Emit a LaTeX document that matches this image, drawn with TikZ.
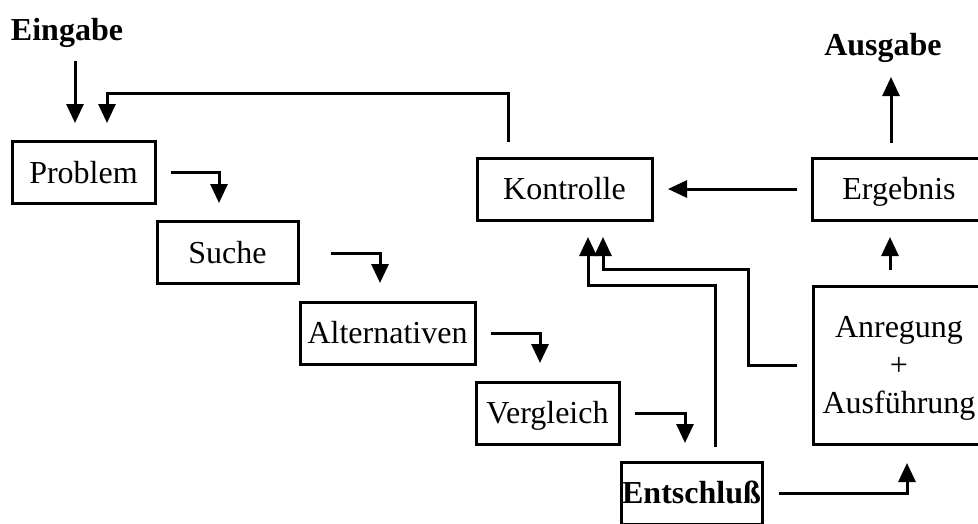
\documentclass[tikz,border=0pt]{standalone}
\usepackage{fontspec}
\setmainfont{Liberation Serif}
\usetikzlibrary{arrows.meta}
\begin{document}
\begin{tikzpicture}[x=1pt,y=-1pt,
  txt/.style={font=\fontsize{32}{38}\selectfont},
  box/.style={txt, draw, line width=3pt, inner sep=0pt,
    text height=21pt, text depth=0pt, minimum height=62pt},
  head/.style={font=\fontsize{32}{38}\selectfont\bfseries, anchor=base},
  link/.style={line width=3pt},
  flow/.style={link, -{Triangle[length=19pt,width=17pt]}}
]
\useasboundingbox (0,0) rectangle (978,523);
\clip (0,0) rectangle (978,523);

% input / output labels
\node[head] (eingabe) at (67,40) {Eingabe};
\node[head] (ausgabe) at (883,55) {Ausgabe};

% decision chain
\node[box, minimum width=143pt] (problem) at (83.5,172.5) {Problem};
\node[box, minimum width=141pt] (suche) at (227.5,252.5) {Suche};
\node[box, minimum width=175pt] (altern) at (387.5,333) {Alternativen};
\node[box, minimum width=143pt] (vergl) at (547.5,413) {Vergleich};
\node[box, minimum width=141pt, font=\fontsize{32}{38}\selectfont\bfseries] (entsch) at (691.5,493) {Entschluß};

% control loop
\node[box, minimum width=175pt] (kontr) at (564.5,189) {Kontrolle};
\node[box, minimum width=174pt] (ergeb) at (899,189) {Ergebnis};
\node[box, minimum width=172pt, minimum height=158pt] (anr) at (899,365) {};
\node[txt, align=center] (anrtext) at (899,368) {Anregung\\+\\Ausführung};

% connector end points
\coordinate (e0) at (75,61);   \coordinate (e1) at (75,123);
\coordinate (f0) at (508,142); \coordinate (f1) at (107,123);
\coordinate (p0) at (171,172); \coordinate (p1) at (219,203);
\coordinate (s0) at (331,253); \coordinate (s1) at (380,283);
\coordinate (a0) at (491,333); \coordinate (a1) at (540,363);
\coordinate (v0) at (635,413); \coordinate (v1) at (685,443);
\coordinate (k0) at (715,447); \coordinate (k1) at (588,237);
\coordinate (r0) at (797,365); \coordinate (r1) at (603,237);
\coordinate (x0) at (779,493); \coordinate (x1) at (907,463);
\coordinate (g0) at (890,270); \coordinate (g1) at (890,237);
\coordinate (b0) at (797,189); \coordinate (b1) at (668,189);
\coordinate (o0) at (891,143); \coordinate (o1) at (891,77);

\draw[flow] (e0) -- (e1);
\draw[flow] (f0) -- (508,93) -| (f1);
\draw[flow] (p0) -| (p1);
\draw[flow] (s0) -| (s1);
\draw[flow] (a0) -| (a1);
\draw[flow] (v0) -| (v1);
\draw[flow] (k0) -- (715,285) -| (k1);
\draw[flow] (r0) -- (748,365) -- (748,269) -| (r1);
\draw[flow] (x0) -| (x1);
\draw[flow] (g0) -- (g1);
\draw[flow] (b0) -- (b1);
\draw[flow] (o0) -- (o1);
\end{tikzpicture}
\end{document}
